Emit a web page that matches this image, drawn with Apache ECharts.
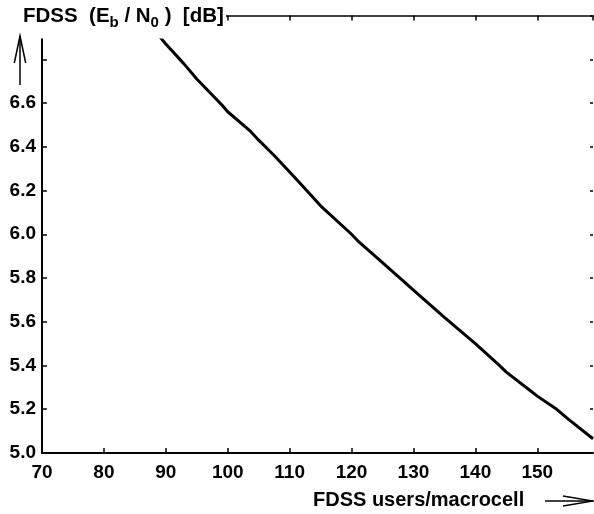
<!DOCTYPE html>
<html>
	<head>
		<meta charset="utf-8">
		<title></title>
		<script src="https://cdn.jsdelivr.net/npm/echarts@6/dist/echarts.min.js"></script>
		<style>
			html, body {
				margin: 0;
				padding: 0;
				background: #ffffff;
			}
			#main {
				width: 594px;
				height: 514px;
			}
		</style>
	</head>
	<body>
		<div id="main"></div>
	</body>
	<script>
		// users per macrocell vs required Eb/N0 (dB)
		var users = [89.1, 90, 92.9, 95, 99.1, 100, 103.7, 105, 107.5, 110, 111.8, 115, 120, 121, 125, 128.6, 130, 135, 140, 143.7, 145, 149.1, 150, 152.9, 155, 159];
		var ebno = [6.90, 6.87, 6.78, 6.71, 6.59, 6.56, 6.47, 6.43, 6.36, 6.285, 6.23, 6.13, 6.00, 5.97, 5.87, 5.78, 5.745, 5.62, 5.50, 5.405, 5.37, 5.28, 5.26, 5.205, 5.155, 5.065];
		var yLabels = ["5.0", "5.2", "5.4", "5.6", "5.8", "6.0", "6.2", "6.4", "6.6"];

		var font = "'Liberation Sans', Arial, sans-serif";

		function points() {
			var arr = [];
			for (var i = 0; i < users.length; i++) {
				arr.push([users[i], ebno[i]]);
			}
			return arr;
		}

		function yLabel(v) {
			var s = v.toFixed(1);
			return yLabels.indexOf(s) >= 0 ? s : "";
		}

		var option = {
			animation: false,
			grid: {
				left: 42,
				right: 1,
				top: 15.5,
				bottom: 61
			},
			xAxis: [{
				type: "value",
				min: 70,
				max: 159,
				interval: 10,
				position: "bottom",
				axisLine: { lineStyle: { color: "#000", width: 2 } },
				axisTick: { inside: true, length: 5, lineStyle: { color: "#000", width: 1.5 } },
				axisLabel: {
					color: "#000",
					fontFamily: font,
					fontWeight: "bold",
					fontSize: 19,
					margin: 10,
					showMaxLabel: false
				},
				splitLine: { show: false }
			}, {
				type: "value",
				min: 70,
				max: 159,
				interval: 10,
				position: "top",
				axisLine: { lineStyle: { color: "#000", width: 1.5 } },
				axisTick: { inside: true, length: 5, lineStyle: { color: "#000", width: 1.5 } },
				axisLabel: { show: false },
				splitLine: { show: false }
			}],
			yAxis: [{
				type: "value",
				min: 5.0,
				max: 7.0,
				interval: 0.2,
				position: "left",
				axisLine: { lineStyle: { color: "#000", width: 2 } },
				axisTick: { inside: true, length: 5, lineStyle: { color: "#000", width: 1.5 } },
				axisLabel: {
					color: "#000",
					fontFamily: font,
					fontWeight: "bold",
					fontSize: 19,
					margin: 6,
					formatter: yLabel
				},
				splitLine: { show: false }
			}, {
				type: "value",
				min: 5.0,
				max: 7.0,
				interval: 0.2,
				position: "right",
				axisLine: { show: false },
				axisTick: { inside: true, length: 3, lineStyle: { color: "#000", width: 1.5 } },
				axisLabel: { show: false },
				splitLine: { show: false }
			}],
			series: [{
				type: "line",
				data: points(),
				symbol: "none",
				xAxisIndex: 0,
				yAxisIndex: 0,
				lineStyle: { color: "#000", width: 3 },
				z: 3
			}],
			graphic: [{
				type: "rect",
				z: 100,
				shape: { x: 0, y: 0, width: 226, height: 38.5 },
				style: { fill: "#fff" }
			}, {
				type: "text",
				z: 101,
				left: 23,
				top: 6,
				style: {
					text: "{t|FDSS  (E}{s|b}{t| / N}{s|0}{t| )  [dB]}",
					fill: "#000",
					rich: {
						t: { fontFamily: font, fontWeight: "bold", fontSize: 20.5, fill: "#000" },
						s: { fontFamily: font, fontWeight: "bold", fontSize: 15, fill: "#000", padding: [12, 0, 0, 0] }
					}
				}
			}, {
				// up arrow beside the y axis
				type: "polyline",
				z: 101,
				shape: { points: [[20, 85], [20, 36]] },
				style: { stroke: "#000", lineWidth: 1.5, fill: null }
			}, {
				type: "polyline",
				z: 101,
				shape: { points: [[14.3, 63], [20, 36], [25.7, 63]] },
				style: { stroke: "#000", lineWidth: 1.5, fill: null }
			}, {
				type: "text",
				z: 101,
				left: 313,
				top: 490,
				style: {
					text: "FDSS users/macrocell",
					fill: "#000",
					font: "bold 20px " + font
				}
			}, {
				// arrow after the x axis name
				type: "polyline",
				z: 101,
				shape: { points: [[545, 501], [593, 501]] },
				style: { stroke: "#000", lineWidth: 1.5, fill: null }
			}, {
				type: "polyline",
				z: 101,
				shape: { points: [[563, 496], [593, 501], [563, 506]] },
				style: { stroke: "#000", lineWidth: 1.5, fill: null }
			}]
		};

		var chart = echarts.init(document.getElementById("main"));
		chart.setOption(option);
	</script>
</html>
